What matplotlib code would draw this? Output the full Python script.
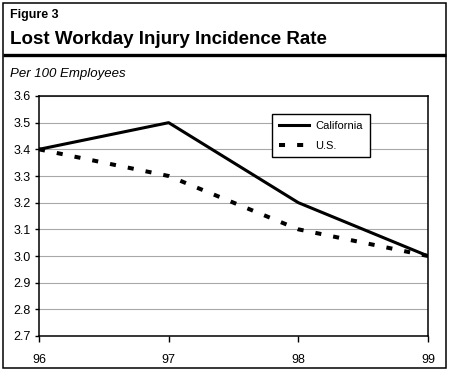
import matplotlib.pyplot as plt
from matplotlib.lines import Line2D
from matplotlib.patches import Rectangle

plt.rcParams['font.family'] = ['Liberation Sans', 'DejaVu Sans']

years = [96, 97, 98, 99]
year_labels = ["96", "97", "98", "99"]
california = [3.4, 3.5, 3.2, 3.0]
us = [3.4, 3.3, 3.1, 3.0]
y_ticks = [2.7, 2.8, 2.9, 3.0, 3.1, 3.2, 3.3, 3.4, 3.5, 3.6]

W, H = 449, 371
fig = plt.figure(figsize=(W / 100, H / 100), dpi=100)


def px(x, y):
    # pixel coords (top-left origin) -> figure fraction
    return x / W, 1 - y / H


# outer frame and heading rule
fig.patches.append(Rectangle(px(3, 368), 443 / W, 365 / H, transform=fig.transFigure,
                             fill=False, edgecolor='black', linewidth=1.1))
fig.add_artist(Line2D([3 / W, 446 / W], [1 - 54.5 / H] * 2, transform=fig.transFigure,
                      color='black', linewidth=2.4, solid_capstyle='butt'))

fig.text(*px(10, 15), "Figure 3", fontsize=9, fontweight='bold', va='center', ha='left')
fig.text(*px(10, 39), "Lost Workday Injury Incidence Rate", fontsize=13.5, fontweight='bold',
         va='center', ha='left')
fig.text(*px(10, 74), "Per 100 Employees", fontsize=9.5, style='italic', va='center', ha='left')

ax = fig.add_axes([39 / W, (H - 336) / H, (428 - 39) / W, (336 - 96) / H])

ax.plot(years, california, color='black', linewidth=2.2, label='California', zorder=3)
ax.plot(years, us, color='black', linewidth=2.9, dashes=(1.5, 3), label='U.S.', zorder=3)

ax.set_xlim(96, 99)
ax.set_ylim(2.7, 3.6)
ax.set_xticks(years)
ax.set_xticklabels(year_labels)
ax.set_yticks(y_ticks)
ax.set_yticklabels([f"{v:.1f}" for v in y_ticks])
ax.yaxis.grid(True, color='#a8a8a8', linewidth=0.8)
ax.set_axisbelow(True)

for s in ax.spines.values():
    s.set_color('black')
    s.set_linewidth(1.1)

ax.tick_params(axis='x', direction='out', length=4, width=1, pad=9, labelsize=9)
ax.tick_params(axis='y', direction='out', length=3, width=1, pad=3, labelsize=9)

leg = ax.legend(loc='upper left', bbox_to_anchor=(0.599, 0.925), fancybox=False,
                edgecolor='black', framealpha=1, fontsize=8, handlelength=2.7,
                borderaxespad=0, labelspacing=0.9, borderpad=0.6, handletextpad=0.6)
leg.get_frame().set_linewidth(1.0)

fig.savefig("out.png", dpi=100)
